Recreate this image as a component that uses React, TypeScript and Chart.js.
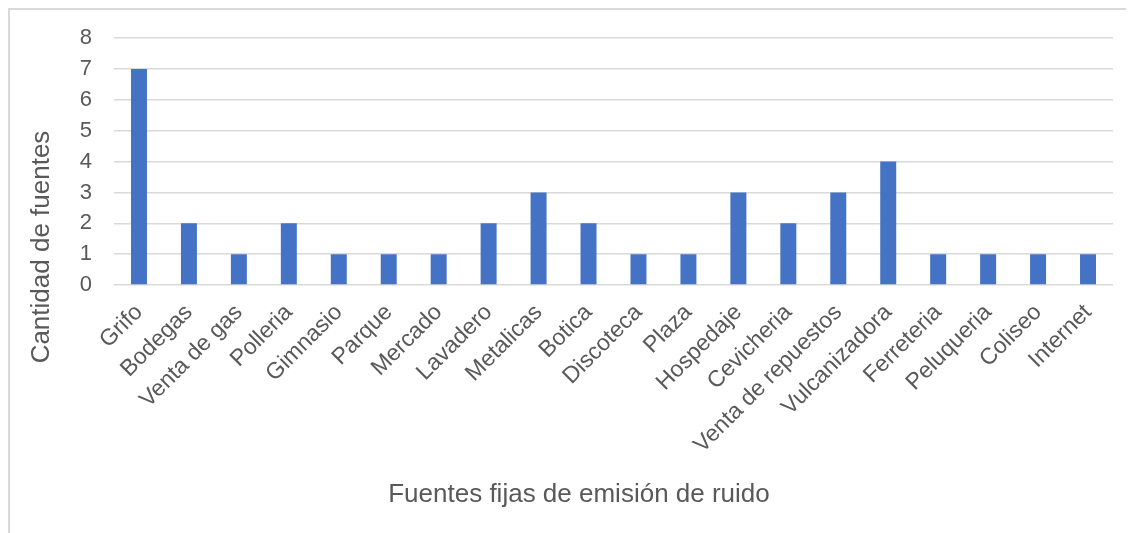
import React, { useEffect, useRef } from "react";
import { Chart, registerables } from "chart.js";

Chart.register(...registerables);

const categories = [
  "Grifo",
  "Bodegas",
  "Venta de gas",
  "Polleria",
  "Gimnasio",
  "Parque",
  "Mercado",
  "Lavadero",
  "Metalicas",
  "Botica",
  "Discoteca",
  "Plaza",
  "Hospedaje",
  "Cevicheria",
  "Venta de repuestos",
  "Vulcanizadora",
  "Ferreteria",
  "Peluqueria",
  "Coliseo",
  "Internet",
];

const counts = [7, 2, 1, 2, 1, 1, 1, 2, 3, 2, 1, 1, 3, 2, 3, 4, 1, 1, 1, 1];

const yTitle = "Cantidad de fuentes";
const xTitle = "Fuentes fijas de emisión de ruido";

const TEXT = "#595959";
const GRID = "#d9d9d9";
const BAR = "#4472C4";
const FONT = "'Liberation Sans', Arial, sans-serif";

// Axis titles drawn at fixed places on the canvas, independent of the scale boxes
const axisTitles = {
  id: "axisTitles",
  afterDraw(chart: Chart) {
    const ctx = chart.ctx;
    ctx.save();
    ctx.fillStyle = TEXT;
    ctx.font = `26px ${FONT}`;
    ctx.textAlign = "center";
    ctx.textBaseline = "middle";
    ctx.save();
    ctx.translate(32, 244);
    ctx.rotate(-Math.PI / 2);
    ctx.fillText(yTitle, 0, 0);
    ctx.restore();
    ctx.fillText(xTitle, 569, 492);
    ctx.restore();
  },
};

export default function App() {
  const canvasRef = useRef<HTMLCanvasElement | null>(null);

  useEffect(() => {
    document.documentElement.style.overflow = "hidden";
    document.body.style.overflow = "hidden";
    if (!canvasRef.current) return;
    const chart = new Chart(canvasRef.current, {
      type: "bar",
      data: {
        labels: categories,
        datasets: [
          {
            data: counts,
            backgroundColor: BAR,
            borderWidth: 0,
            categoryPercentage: 1,
            barPercentage: 0.32,
          },
        ],
      },
      options: {
        animation: false,
        responsive: true,
        maintainAspectRatio: false,
        layout: {
          autoPadding: false,
          padding: { left: 0, top: 10, right: 13, bottom: 0 },
        },
        plugins: {
          legend: { display: false },
          tooltip: { enabled: false },
        },
        scales: {
          x: {
            grid: { display: false, drawTicks: false },
            border: { display: false },
            ticks: {
              color: TEXT,
              font: { size: 23, family: FONT },
              minRotation: 45,
              maxRotation: 45,
              padding: 14,
              autoSkip: false,
            },
            afterFit(scale: any) {
              scale.height = 240;
            },
          },
          y: {
            min: 0,
            max: 8,
            grid: {
              color: GRID,
              lineWidth: 1.5,
              drawTicks: false,
              tickLength: 0,
            },
            border: { display: false },
            ticks: {
              stepSize: 1,
              color: TEXT,
              font: { size: 22, family: FONT },
              padding: 22,
            },
            afterFit(scale: any) {
              scale.width = 104;
            },
          },
        },
      },
      plugins: [axisTitles],
    });
    return () => chart.destroy();
  }, []);

  return (
    <div
      style={{
        height: 540,
        borderTop: `2px solid ${GRID}`,
        borderLeft: `2px solid ${GRID}`,
        position: "relative",
        background: "#fff",
      }}
    >
      <div style={{ position: "relative", height: 522, marginTop: -7 }}>
        <canvas ref={canvasRef} />
      </div>
    </div>
  );
}
